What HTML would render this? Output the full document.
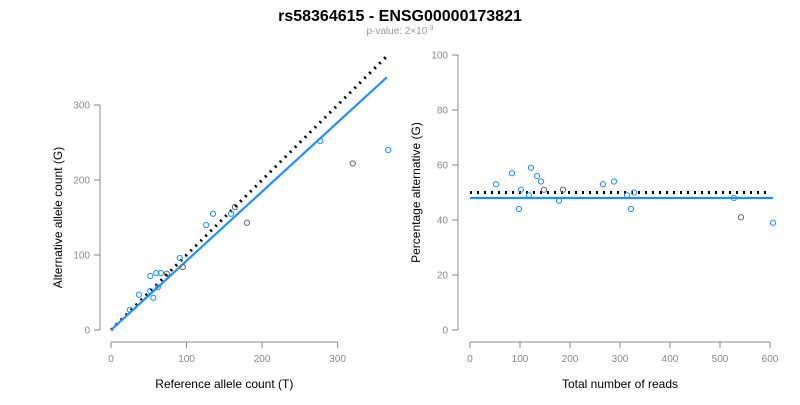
<!DOCTYPE html>
<html><head><meta charset="utf-8"><style>
body{margin:0;background:#fff;}
svg text{font-family:"Liberation Sans",Arial,sans-serif;}
</style></head><body>
<svg width="800" height="400" xmlns="http://www.w3.org/2000/svg">
<text x="400" y="21" text-anchor="middle" font-size="16" font-weight="bold">rs58364615 - ENSG00000173821</text>
<text x="400" y="34" text-anchor="middle" font-size="10" fill="#999">p-value: 2×10<tspan dy="-4" font-size="7">-3</tspan></text>
<g id="left"></g>
<g id="right"></g>
</svg>
<script>
const refCounts=[25,37,52,52,56,60,66,62,74,91,95,126,135,159,164,180,277,320,367];
const altCounts=[27,47,72,52,43,76,76,57,75,96,84,140,155,155,164,143,252,222,240];
const leftGrey=[false,false,false,false,false,false,false,false,true,false,true,false,false,false,true,true,false,true,false];
const totalReads=[52,84,98,102,118,122,134,142,148,178,186,266,288,314,322,328,528,542,606];
const pctAlt=[53,57,44,51,49,59,56,54,51,47,51,53,54,49,44,50,48,41,39];
const rightGrey=[false,false,false,false,false,false,false,false,true,false,true,false,false,false,false,false,false,true,false];
const leftXTicks=[0,100,200,300];
const leftYTicks=[0,100,200,300];
const rightXTicks=[0,100,200,300,400,500,600];
const rightYTicks=[0,20,40,60,80,100];
const expectedLine=[0,365];
const fitSlope=0.923;
const rightExpected=50;
const rightFit=48;

const NS="http://www.w3.org/2000/svg";
function mk(p,tag,a){const e=document.createElementNS(NS,tag);for(const k in a)e.setAttribute(k,a[k]);p.appendChild(e);return e;}
function axes(g,xs,ys,xt,yt,xlab,ylab,yAxisX,xAxisY){
  mk(g,'line',{x1:xs(xt[0]),x2:xs(xt[xt.length-1]),y1:xAxisY,y2:xAxisY,stroke:'#888'});
  xt.forEach(v=>{mk(g,'line',{x1:xs(v),x2:xs(v),y1:xAxisY,y2:xAxisY+6,stroke:'#888'});
    const t=mk(g,'text',{x:xs(v),y:xAxisY+20,'text-anchor':'middle','font-size':10,fill:'#888'});t.textContent=v;
    });
  mk(g,'line',{x1:yAxisX,x2:yAxisX,y1:ys(yt[0]),y2:ys(yt[yt.length-1]),stroke:'#888'});
  yt.forEach(v=>{mk(g,'line',{x1:yAxisX-6,x2:yAxisX,y1:ys(v),y2:ys(v),stroke:'#888'});
    const t=mk(g,'text',{x:yAxisX-10,y:ys(v)+3.5,'text-anchor':'end','font-size':10,fill:'#888'});t.textContent=v;
    });
  const xl=mk(g,'text',{x:(xs(xt[0])+xs(xt[xt.length-1]))/2,y:388,'text-anchor':'middle','font-size':12});xl.textContent=xlab;
  
  const cy=(ys(yt[0])+ys(yt[yt.length-1]))/2;
  const yl=mk(g,'text',{x:0,y:0,'text-anchor':'middle','font-size':12,transform:`translate(${yAxisX-38},${cy}) rotate(-90)`});yl.textContent=ylab;
  
}
// left
const L=document.getElementById('left');
const lx=v=>111+v*0.7555, ly=v=>330-v*0.75;
axes(L,lx,ly,leftXTicks,leftYTicks,'Reference allele count (T)','Alternative allele count (G)',100,342);
let e=mk(L,'line',{x1:lx(expectedLine[0]),y1:ly(expectedLine[0]),x2:lx(expectedLine[1]),y2:ly(expectedLine[1]),stroke:'#000','stroke-width':3,'stroke-dasharray':'2 5'});

e=mk(L,'line',{x1:lx(0),y1:ly(0),x2:lx(365),y2:ly(365*fitSlope),stroke:'#1e90ff','stroke-width':2.2});

refCounts.forEach((v,i)=>{const c=mk(L,'circle',{cx:lx(v),cy:ly(altCounts[i]),r:2.6,fill:'none',stroke:leftGrey[i]?'#666':'#1e90ff','stroke-width':1});
  });
// right
const R=document.getElementById('right');
const rx=v=>470+v*0.5, ry=v=>330-v*2.75;
axes(R,rx,ry,rightXTicks,rightYTicks,'Total number of reads','Percentage alternative (G)',458,342);
e=mk(R,'line',{x1:rx(0),y1:ry(rightExpected),x2:rx(600),y2:ry(rightExpected),stroke:'#000','stroke-width':3,'stroke-dasharray':'2 5'});

e=mk(R,'line',{x1:rx(0),y1:ry(rightFit),x2:rx(606),y2:ry(rightFit),stroke:'#1e90ff','stroke-width':2.2});

totalReads.forEach((v,i)=>{const c=mk(R,'circle',{cx:rx(v),cy:ry(pctAlt[i]),r:2.6,fill:'none',stroke:rightGrey[i]?'#666':'#1e90ff','stroke-width':1});
  });
</script>
</body></html>
